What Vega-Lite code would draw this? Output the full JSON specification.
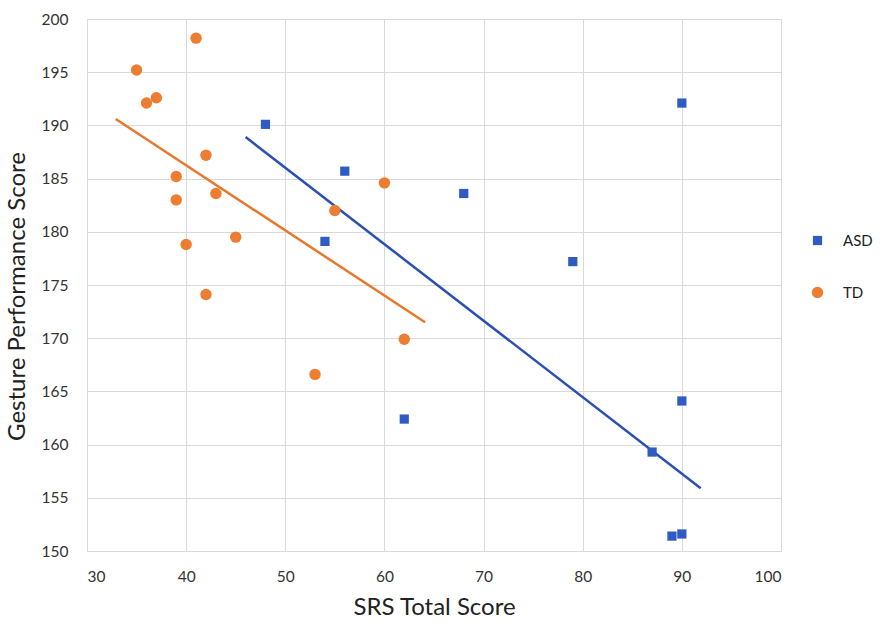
{
  "$schema": "https://vega.github.io/schema/vega-lite/v6.json",
  "width": 694,
  "height": 532,
  "autosize": "none",
  "padding": {"left": 87, "top": 19, "right": 102, "bottom": 79},
  "background": "white",
  "datasets": {
    "points": [
      {"group": "ASD", "srs": 48, "gesture": 190.1},
      {"group": "ASD", "srs": 56, "gesture": 185.7},
      {"group": "ASD", "srs": 54, "gesture": 179.1},
      {"group": "ASD", "srs": 90, "gesture": 192.1},
      {"group": "ASD", "srs": 68, "gesture": 183.6},
      {"group": "ASD", "srs": 79, "gesture": 177.2},
      {"group": "ASD", "srs": 62, "gesture": 162.4},
      {"group": "ASD", "srs": 90, "gesture": 164.1},
      {"group": "ASD", "srs": 87, "gesture": 159.3},
      {"group": "ASD", "srs": 89, "gesture": 151.4},
      {"group": "ASD", "srs": 90, "gesture": 151.6},
      {"group": "TD", "srs": 41, "gesture": 198.2},
      {"group": "TD", "srs": 35, "gesture": 195.2},
      {"group": "TD", "srs": 36, "gesture": 192.1},
      {"group": "TD", "srs": 37, "gesture": 192.6},
      {"group": "TD", "srs": 42, "gesture": 187.2},
      {"group": "TD", "srs": 39, "gesture": 185.2},
      {"group": "TD", "srs": 39, "gesture": 183.0},
      {"group": "TD", "srs": 43, "gesture": 183.6},
      {"group": "TD", "srs": 55, "gesture": 182.0},
      {"group": "TD", "srs": 60, "gesture": 184.6},
      {"group": "TD", "srs": 45, "gesture": 179.5},
      {"group": "TD", "srs": 40, "gesture": 178.8},
      {"group": "TD", "srs": 42, "gesture": 174.1},
      {"group": "TD", "srs": 62, "gesture": 169.9},
      {"group": "TD", "srs": 53, "gesture": 166.6}
    ],
    "trend": [
      {"group": "ASD", "srs": 46.0, "gesture": 188.9},
      {"group": "ASD", "srs": 91.9, "gesture": 155.9},
      {"group": "TD", "srs": 32.9, "gesture": 190.6},
      {"group": "TD", "srs": 64.1, "gesture": 171.5}
    ]
  },
  "layer": [
    {
      "data": {"name": "trend"},
      "transform": [{"filter": "datum.group === 'TD'"}],
      "mark": {"type": "line", "strokeWidth": 2.5, "color": "#E8772E"},
      "encoding": {
        "x": {"field": "srs", "type": "quantitative"},
        "y": {"field": "gesture", "type": "quantitative"}
      }
    },
    {
      "data": {"name": "trend"},
      "transform": [{"filter": "datum.group === 'ASD'"}],
      "mark": {"type": "line", "strokeWidth": 2.5, "color": "#2B4FB3"},
      "encoding": {
        "x": {"field": "srs", "type": "quantitative"},
        "y": {"field": "gesture", "type": "quantitative"}
      }
    },
    {
      "data": {"name": "points"},
      "mark": {"type": "point", "filled": true, "opacity": 1},
      "encoding": {
        "x": {
          "field": "srs",
          "type": "quantitative",
          "title": "SRS Total Score",
          "scale": {"domain": [30, 100], "nice": false, "zero": false},
          "axis": {"values": [30, 40, 50, 60, 70, 80, 90, 100]}
        },
        "y": {
          "field": "gesture",
          "type": "quantitative",
          "title": "Gesture Performance Score",
          "scale": {"domain": [150, 200], "nice": false, "zero": false},
          "axis": {"values": [150, 155, 160, 165, 170, 175, 180, 185, 190, 195, 200], "titleY": 277}
        },
        "color": {
          "field": "group",
          "type": "nominal",
          "title": null,
          "scale": {"domain": ["ASD", "TD"], "range": ["#2F5BC2", "#ED7D31"]},
          "legend": {
            "orient": "none",
            "legendX": 723,
            "legendY": 214,
            "labelFontSize": 15,
            "labelColor": "#222222",
            "symbolSize": 90,
            "rowPadding": 36,
            "labelOffset": 18
          }
        },
        "shape": {
          "field": "group",
          "type": "nominal",
          "title": null,
          "scale": {"domain": ["ASD", "TD"], "range": ["square", "circle"]}
        },
        "size": {
          "field": "group",
          "type": "nominal",
          "scale": {"domain": ["ASD", "TD"], "range": [85, 130]},
          "legend": null
        }
      }
    }
  ],
  "config": {
    "font": "Lato",
    "view": {"stroke": null},
    "axis": {
      "grid": true,
      "gridColor": "#d9d9d9",
      "gridWidth": 1,
      "domainColor": "#d9d9d9",
      "ticks": false,
      "labelFontSize": 15.5,
      "labelColor": "#333333",
      "titleFontSize": 24,
      "titleFontWeight": "normal",
      "titleColor": "#222222"
    },
    "axisX": {"labelPadding": 18, "titlePadding": 11},
    "axisY": {"labelPadding": 19, "titlePadding": 12}
  }
}
